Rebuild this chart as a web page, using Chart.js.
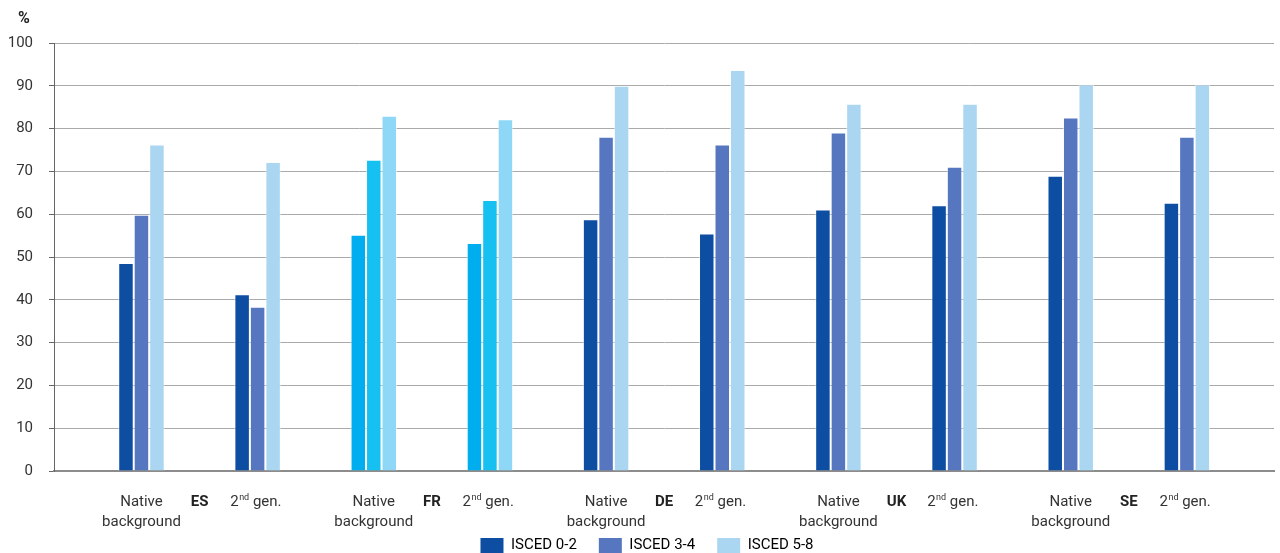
<!DOCTYPE html>
<html>
<head>
<meta charset="utf-8">
<script src="https://cdn.jsdelivr.net/npm/chart.js@4"></script>
<style>
  html, body { margin: 0; padding: 0; background: #ffffff; }
  #wrap { width: 1280px; height: 553px; }
</style>
</head>
<body>
<div id="wrap"><canvas id="chart" width="1280" height="553"></canvas></div>
<script>
// Group labels: each country has a native-background group and a second-generation group
const countries = ['ES', 'FR', 'DE', 'UK', 'SE'];
const groups = ['native', '2nd', 'native', '2nd', 'native', '2nd', 'native', '2nd', 'native', '2nd'];

// Share (%) by education level, one value per group
const isced02 = [48.6, 41.3, 55.2, 53.3, 58.8, 55.5, 61.1, 62.1, 69.0, 62.7];
const isced34 = [59.9, 38.4, 72.7, 63.3, 78.1, 76.3, 79.1, 71.1, 82.6, 78.1];
const isced58 = [76.3, 72.2, 83.0, 82.2, 90.0, 93.7, 85.8, 85.8, 90.3, 90.3];

const seriesNames = ['ISCED 0-2', 'ISCED 3-4', 'ISCED 5-8'];
const yTicks = [0, 10, 20, 30, 40, 50, 60, 70, 80, 90, 100];

// Palettes: France is highlighted in cyan tones
const basePalette = ['#0d4da2', '#5677c0', '#abd6f1'];
const highlightPalette = ['#00aeef', '#16c1f2', '#8fd7f6'];
const highlightCountry = 'FR';

const FONT = 'Roboto, "Liberation Sans", Arial, sans-serif';

function countryOf(i) { return countries[Math.floor(i / 2)]; }

function makeDataset(name, values, k) {
  return {
    label: name,
    data: values.map((v, i) => ({ x: i, y: v })),
    backgroundColor: values.map((v, i) => countryOf(i) === highlightCountry ? highlightPalette[k] : basePalette[k]),
    borderColor: 'rgba(255,255,255,0.55)',
    borderWidth: 1,
    categoryPercentage: 0.4,
    barPercentage: 1.0
  };
}

// Nudges the "%" unit label and the legend into place after layout
const blockOffsets = {
  id: 'blockOffsets',
  afterLayout(chart) {
    const t = chart.titleBlock;
    if (t) { t.left += 18; t.right += 18; }
    const l = chart.legend;
    if (l) { l.left += 10; l.right += 10; }
  }
};

// Draws the two-level category labels under the x axis
const groupLabels = {
  id: 'groupLabels',
  afterDraw(chart) {
    const { ctx, scales: { x, y } } = chart;
    const base = y.getPixelForValue(0);
    const line1 = base + 31;
    const line2 = base + 51;
    ctx.save();
    ctx.fillStyle = '#333333';
    ctx.textBaseline = 'middle';
    groups.forEach((g, i) => {
      const cx = x.getPixelForValue(i);
      if (g === 'native') {
        ctx.font = '15px ' + FONT;
        ctx.textAlign = 'center';
        ctx.fillText('Native', cx, line1);
        ctx.fillText('background', cx, line2);
      } else {
        // "2nd gen." with superscript ordinal
        ctx.font = '15px ' + FONT;
        const w2 = ctx.measureText('2').width;
        const wRest = ctx.measureText(' gen.').width;
        ctx.font = '9px ' + FONT;
        const wSup = ctx.measureText('nd').width;
        const total = w2 + wSup + wRest;
        const left = cx - 2 - total / 2;
        ctx.textAlign = 'left';
        ctx.font = '15px ' + FONT;
        ctx.fillText('2', left, line1);
        ctx.font = '9px ' + FONT;
        ctx.fillText('nd', left + w2 + 0.5, line1 - 4);
        ctx.font = '15px ' + FONT;
        ctx.fillText(' gen.', left + w2 + wSup + 0.5, line1);
      }
    });
    // Country names between their two groups
    ctx.font = 'bold 15px ' + FONT;
    ctx.fillStyle = '#222222';
    ctx.textAlign = 'center';
    countries.forEach((c, k) => {
      const cx = (x.getPixelForValue(2 * k) + x.getPixelForValue(2 * k + 1)) / 2;
      ctx.fillText(c, cx, line1);
    });
    ctx.restore();
  }
};

new Chart(document.getElementById('chart'), {
  type: 'bar',
  data: {
    datasets: [
      makeDataset(seriesNames[0], isced02, 0),
      makeDataset(seriesNames[1], isced34, 1),
      makeDataset(seriesNames[2], isced58, 2)
    ]
  },
  options: {
    responsive: false,
    animation: false,
    layout: { padding: { left: 0, right: 6, top: 0, bottom: -10 } },
    scales: {
      x: {
        type: 'linear',
        min: -0.753,
        max: 9.75,
        offset: false,
        grid: { display: false, offset: false },
        border: { display: true, color: '#8c8c8c', width: 2 },
        ticks: { display: false, stepSize: 1, includeBounds: false },
        afterFit(scale) { scale.height = 45; }
      },
      y: {
        min: 0,
        max: 100,
        afterBuildTicks(scale) { scale.ticks = yTicks.map(v => ({ value: v })); },
        grid: { color: '#aaaaaa', lineWidth: 1, tickLength: 5, drawTicks: true, tickColor: '#666666' },
        border: { display: true, color: '#666666', width: 1 },
        ticks: { color: '#333333', font: { family: FONT, size: 15 }, padding: 16 },
        afterFit(scale) { scale.width = 54; }
      }
    },
    plugins: {
      title: {
        display: true,
        text: '%',
        align: 'start',
        color: '#222222',
        font: { family: FONT, size: 16, weight: 'bold' },
        padding: { top: 9, bottom: 14.8 }
      },
      legend: {
        position: 'bottom',
        labels: {
          color: '#333333',
          font: { family: FONT, size: 15 },
          boxWidth: 23,
          boxHeight: 15,
          padding: 22,
          generateLabels(chart) {
            return chart.data.datasets.map((ds, k) => ({
              text: ds.label,
              fillStyle: basePalette[k],
              strokeStyle: basePalette[k],
              lineWidth: 0,
              datasetIndex: k
            }));
          }
        }
      },
      tooltip: { enabled: false }
    }
  },
  plugins: [blockOffsets, groupLabels]
});
</script>
</body>
</html>
